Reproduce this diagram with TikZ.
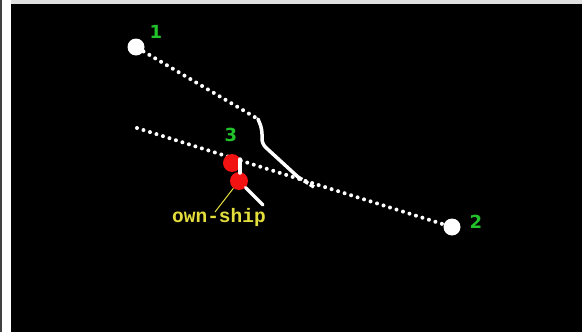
\documentclass[tikz,border=0pt]{standalone}
\usepackage{fontspec}
\setsansfont{DejaVu Sans}
\setmonofont{Liberation Mono}
\usetikzlibrary{positioning,calc}
\definecolor{scope}{HTML}{000000}
\definecolor{tagGreen}{HTML}{22C22A}
\definecolor{tagYellow}{HTML}{E4DE3C}
\definecolor{ownRed}{HTML}{F21212}
\tikzset{
 target/.style={circle,fill=white,minimum size=17pt,inner sep=0pt},
 ownpos/.style={circle,fill=ownRed,minimum size=18pt,inner sep=0pt},
 tag/.style={text=tagGreen,font=\sffamily\bfseries\fontsize{18}{18}\selectfont,inner sep=0pt},
 callout/.style={text=tagYellow,font=\ttfamily\bfseries\fontsize{19.5}{19.5}\selectfont,inner sep=0pt},
 track/.style={draw=white,line width=4pt,line cap=round,dash pattern=on 0pt off 6.8pt},
 trail/.style={draw=white,line width=3.5pt,line cap=round,line join=round},
 leader/.style={draw=tagYellow,line width=1pt}
}

\begin{document}
\begin{tikzpicture}[x=1pt,y=-1pt]
  \useasboundingbox (0,0) rectangle (582,332);
  \fill[white] (0,0) rectangle (582,332);
  \fill[black!12] (11,0) rectangle (582,4);
  \fill[scope] (11,4) rectangle (582,332);
  \draw[black!75,line width=1.5pt] (0.75,0) -- (0.75,332);

  % contacts
  \node[target] (ship1) at (136,47) {};
  \node[target] (ship2) at (452,227) {};
  \coordinate (start3) at (137,128);
  \coordinate (turn1) at (258,119);
  \coordinate (bend1) at (262,144);
  \coordinate (cross1) at (298,177);
  \coordinate (end1) at (314,187);

  \draw[track] (ship1) -- (turn1);
  \draw[trail,rounded corners=5pt] (turn1) -- (262,129) -- (bend1) -- (cross1);
  \draw[draw=white,line width=3.5pt,dash pattern=on 5pt off 2pt] (cross1) -- (end1);
  \draw[track] (start3) -- (ship2);

  % own ship
  \node[ownpos] (own1) at (232,163) {};
  \node[ownpos] (own2) at (239,181) {};
  \coordinate (trailtop) at (240,159);
  \coordinate (trailend) at (263,205);
  \draw[trail] (trailtop) -- (240,173);
  \draw[trail] (own2) -- (trailend);

  \node[tag] (tag1) at (156,32) {1};
  \node[tag] (tag2) at (476,222) {2};
  \node[tag] (tag3) at (231,135) {3};

  \node[callout] (ownlabel) at (219,217) {own-ship};
  \coordinate (leaderfoot) at (215,212);
  \draw[leader] (own2) -- (leaderfoot);
\end{tikzpicture}
\end{document}
